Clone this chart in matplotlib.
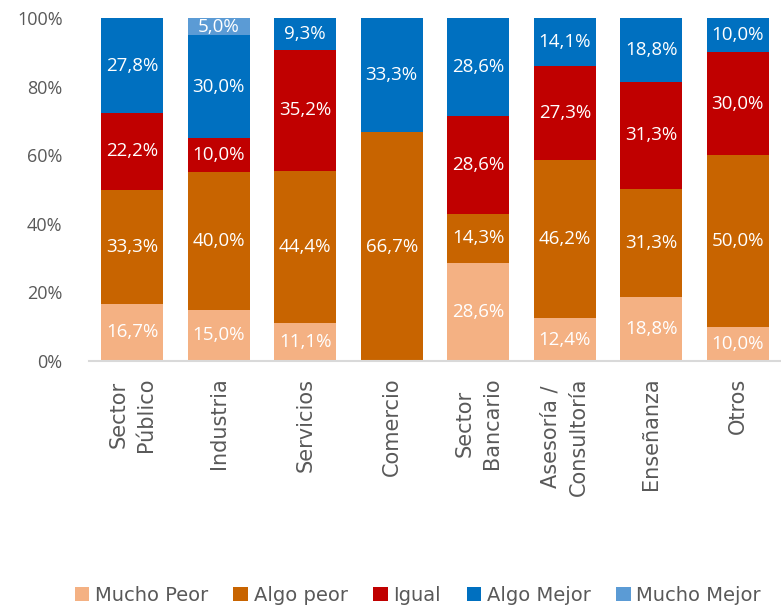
import numpy as np
import matplotlib.pyplot as plt

categories = ["Sector\nPúblico", "Industria", "Servicios", "Comercio",
              "Sector\nBancario", "Asesoría /\nConsultoría", "Enseñanza", "Otros"]
series_names = ["Mucho Peor", "Algo peor", "Igual", "Algo Mejor", "Mucho Mejor"]
mucho_peor = [16.7, 15.0, 11.1, 0.0, 28.6, 12.4, 18.8, 10.0]
algo_peor = [33.3, 40.0, 44.4, 66.7, 14.3, 46.2, 31.3, 50.0]
igual = [22.2, 10.0, 35.2, 0.0, 28.6, 27.3, 31.3, 30.0]
algo_mejor = [27.8, 30.0, 9.3, 33.3, 28.6, 14.1, 18.8, 10.0]
mucho_mejor = [0.0, 5.0, 0.0, 0.0, 0.0, 0.0, 0.0, 0.0]
colors = ["#F4B183", "#C86400", "#C00000", "#0070C0", "#5B9BD5"]

plt.rcParams['font.family'] = ['Open Sans', 'DejaVu Sans']

fig = plt.figure(figsize=(7.81, 6.07), dpi=100)
ax = fig.add_axes([89 / 781, 1 - 361 / 607, 692 / 781, 343 / 607])

x = np.arange(len(categories))
bottom = np.zeros(len(categories))
for name, vals, c in zip(series_names, [mucho_peor, algo_peor, igual, algo_mejor, mucho_mejor], colors):
    vals = np.array(vals)
    ax.bar(x, vals, 0.72, bottom=bottom, color=c, label=name)
    for xi, v, b in zip(x, vals, bottom):
        if v > 0:
            ax.text(xi, b + v / 2, f"{v:.1f}%".replace(".", ","), ha='center', va='center',
                    color='white', fontsize=13.5)
    bottom += vals

ax.set_xlim(-0.5, len(categories) - 0.5)
ax.set_ylim(0, 100)
ax.set_yticks(np.arange(0, 101, 20))
ax.set_yticklabels([f"{t}%" for t in range(0, 101, 20)], fontsize=13)
ax.set_xticks(x)
ax.set_xticklabels(categories, rotation=90, va='top', ha='center', multialignment='center',
                   linespacing=1.5, family='DejaVu Sans', fontsize=15)
ax.tick_params(axis='both', length=0, colors='#595959')
ax.tick_params(axis='x', pad=12)
ax.tick_params(axis='y', pad=19)
for s in ['top', 'right', 'left']:
    ax.spines[s].set_visible(False)
ax.spines['bottom'].set_color('#D9D9D9')
ax.spines['bottom'].set_linewidth(1.5)

fig.legend(loc='lower center', bbox_to_anchor=(0.535, -0.025), ncol=5, frameon=False,
           prop={'family': 'DejaVu Sans', 'size': 14}, labelcolor='#595959',
           handlelength=0.75, handleheight=0.75, handletextpad=0.3, columnspacing=1.3)

fig.savefig("out.png", dpi=100)
